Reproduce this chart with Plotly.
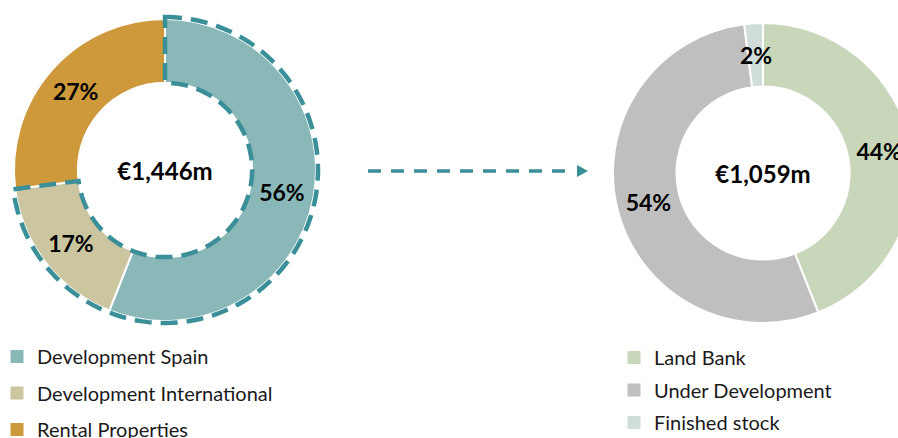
import math
import plotly.graph_objects as go

# ---------------- data ----------------
left_labels = ["Development Spain", "Development International", "Rental Properties"]
left_values = [56, 17, 27]
left_colors = ["#8AB8B8", "#CBC5A0", "#CD993B"]
left_total = "€1,446m"

right_labels = ["Land Bank", "Under Development", "Finished stock"]
right_values = [44, 54, 2]
right_colors = ["#C8D6B9", "#BFBFBF", "#D0DDDA"]
right_total = "€1,059m"

highlight_count = 2  # first two left slices are outlined (dashed)

# ---------------- layout constants ----------------
W, H = 930, 438
FONT = "Lato"
DASH_COLOR = "#3B8F98"
LABEL_FONT = dict(family=FONT, size=23, color="black", weight=700)

L_CX, L_CY, L_R = 165, 170, 151
R_CX, R_CY, R_R = 763, 173, 150
HOLE = 0.577
SMALL = 0.05  # slices below this share get their label placed as annotation


def domain(cx, cy, r):
    return dict(x=[(cx - r) / W, (cx + r) / W], y=[1 - (cy + r) / H, 1 - (cy - r) / H])


fig = go.Figure()

for labels, values, colors, total, (cx, cy, r) in [
    (left_labels, left_values, left_colors, left_total, (L_CX, L_CY, L_R)),
    (right_labels, right_values, right_colors, right_total, (R_CX, R_CY, R_R)),
]:
    tot = sum(values)
    templates = ["%{percent:.0%}" if v / tot >= SMALL else "" for v in values]
    fig.add_trace(go.Pie(
        labels=labels, values=values, sort=False, direction="clockwise", rotation=0,
        hole=HOLE, domain=domain(cx, cy, r),
        marker=dict(colors=colors, line=dict(color="white", width=2)),
        texttemplate=templates, textposition="inside",
        insidetextorientation="horizontal",
        textfont=LABEL_FONT,
        title=dict(text=total, position="middle center",
                   font=dict(family=FONT, size=24, color="black", weight=700)),
        showlegend=False, hoverinfo="label+percent",
    ))
    # labels of very small slices: placed at the slice's mid angle / mid ring radius
    cum = 0
    for v in values:
        if v / tot < SMALL:
            t = 2 * math.pi * (cum + v / 2) / tot
            rm = r * (1 + HOLE) / 2
            fig.add_annotation(
                xref="paper", yref="paper", x=cx / W, y=1 - cy / H,
                xshift=rm * math.sin(t), yshift=rm * math.cos(t),
                text=f"{v / tot:.0%}", showarrow=False, font=LABEL_FONT,
                xanchor="center", yanchor="middle")
        cum += v

# legend entries (one per category)
for labels, colors, lg in [(left_labels, left_colors, "legend"), (right_labels, right_colors, "legend2")]:
    for lab, col in zip(labels, colors):
        fig.add_trace(go.Scatter(
            x=[None], y=[None], mode="markers", name=lab, legend=lg, legendgroup=lab,
            marker=dict(symbol="square", size=13, color=col),
        ))

# dashed outline around highlighted slices of left donut (from data fractions)
frac = sum(left_values[:highlight_count]) / sum(left_values)
r_out = L_R + 2
r_in = L_R * HOLE
n = 120
pts = []
for i in range(n + 1):
    t = 2 * math.pi * frac * i / n
    pts.append((r_out * math.sin(t), r_out * math.cos(t)))
for i in range(n, -1, -1):
    t = 2 * math.pi * frac * i / n
    pts.append((r_in * math.sin(t), r_in * math.cos(t)))
path = "M " + " L ".join(f"{x:.2f},{y:.2f}" for x, y in pts) + " Z"
fig.add_shape(type="path", xref="paper", yref="paper", xsizemode="pixel", ysizemode="pixel",
              xanchor=L_CX / W, yanchor=1 - L_CY / H, path=path,
              line=dict(color=DASH_COLOR, width=4.5, dash="17px,9px"), fillcolor="rgba(0,0,0,0)")

# dashed arrow between the charts
ay = 1 - 171 / H
fig.add_shape(type="line", xref="paper", yref="paper", x0=368 / W, x1=574 / W, y0=ay, y1=ay,
              line=dict(color=DASH_COLOR, width=3.5, dash="13px,10px"))
fig.add_shape(type="path", xref="paper", yref="paper",
              path=f"M {577 / W},{1 - 165 / H} L {588 / W},{ay} L {577 / W},{1 - 177 / H} Z",
              fillcolor=DASH_COLOR, line=dict(color=DASH_COLOR, width=0))

leg_common = dict(font=dict(family=FONT, size=20, color="#1a1a1a"), bgcolor="rgba(0,0,0,0)",
                  xanchor="left", yanchor="top", itemclick=False, itemdoubleclick=False)
fig.update_layout(
    width=W, height=H, margin=dict(l=0, r=0, t=0, b=0, autoexpand=False),
    paper_bgcolor="white", plot_bgcolor="white",
    xaxis=dict(visible=False), yaxis=dict(visible=False),
    uniformtext=dict(minsize=23, mode="show"),
    legend=dict(x=-3 / W, y=1 - 337 / H, tracegroupgap=7.5, **leg_common),
    legend2=dict(x=614 / W, y=1 - 338 / H, tracegroupgap=3.5, **leg_common),
)

fig.write_html("out.html", config={"displayModeBar": False}, post_script=(
    "document.body.style.margin='0';document.body.style.overflow='hidden';"
    "document.documentElement.style.overflow='hidden';"))
